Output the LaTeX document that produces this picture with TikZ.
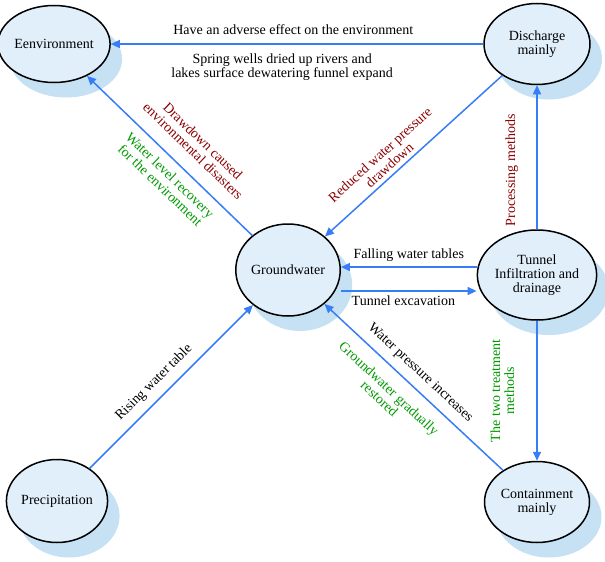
\documentclass[tikz,border=0pt]{standalone}
\usepackage{fontspec}
\setmainfont{Liberation Serif}
\usetikzlibrary{shapes.geometric,shadows,arrows.meta}
\definecolor{flowblue}{RGB}{55,125,245}
\definecolor{paleblue}{RGB}{224,239,250}
\definecolor{shadeblue}{RGB}{197,225,243}
\colorlet{redtext}{red!55!black}
\colorlet{greentext}{green!60!black}

\begin{document}
\begin{tikzpicture}[x=1pt, y=-1pt, >={Triangle[length=9pt,width=8pt]},
    state/.style={ellipse, draw, line width=1.5pt, fill=paleblue, inner sep=0pt, align=center,
      minimum width=106pt, minimum height=81pt, font=\fontsize{14}{14}\selectfont,
      drop shadow={shadow xshift=12pt, shadow yshift=-15pt, fill=shadeblue, opacity=1}},
    flow/.style={draw=flowblue, line width=1.5pt, ->},
    lbl/.style={inner sep=0pt, align=center, font=\fontsize{14}{14}\selectfont}]
    \useasboundingbox (0,0) rectangle (605,562);

    \node[state, minimum height=77pt] (env) at (54,44) {Eenvironment};
    \node[state] (dis) at (537,44) {Discharge\\mainly};
    \node[state, minimum width=98pt, minimum height=92pt] (gw) at (288,270) {Groundwater};
    \node[state, minimum height=90pt] (tun) at (537,275) {Tunnel\\Infiltration and\\drainage};
    \node[state, minimum width=100pt, minimum height=83pt] (pre) at (57,501) {Precipitation};
    \node[state, minimum width=105pt] (con) at (537,502) {Containment\\mainly};

    \coordinate (tunup) at ([yshift=8pt]tun.west);
    \coordinate (gwlow) at ([yshift=-21pt]gw.east);

    \draw[flow] (dis) -- node[lbl, above=9pt, pos=.51] {Have an adverse effect on the environment}
      node[lbl, below=9pt, pos=.54] {Spring wells dried up rivers and\\lakes surface dewatering funnel expand} (env);
    \draw[flow] (gw) -- node[lbl, sloped, above=14pt, pos=.44, text=redtext] {Drawdown caused\\environmental disasters}
      node[lbl, sloped, below=8pt, pos=.44, text=greentext] {Water level recovery\\for the environment} (env);
    \draw[flow] (dis) -- node[lbl, sloped, above=4pt, pos=.6, text=redtext] {Reduced water pressure\\drawdown} (gw);
    \draw[flow] (tun) -- node[lbl, sloped, allow upside down, above=18pt, pos=.41, text=redtext] {Processing methods} (dis);
    \draw[flow] (tunup) -- node[lbl, above=5pt] {Falling water tables} (tunup -| gw.east);
    \draw[flow] (gwlow) -- node[lbl, below=4pt, pos=.46] {Tunnel excavation} (gwlow -| tun.west);
    \draw[flow, <-] (con) -- node[lbl, sloped, allow upside down, above=22pt, text=greentext] {The two treatment\\methods} (tun);
    \draw[flow] (con) -- node[lbl, sloped, above=8pt, pos=.52] {Water pressure increases}
      node[lbl, sloped, below=12pt, pos=.57, text=greentext] {Groundwater gradually\\restored} (gw);
    \draw[flow] (pre) -- node[lbl, sloped, above=8pt, pos=.46] {Rising water table} (gw);
\end{tikzpicture}
\end{document}
